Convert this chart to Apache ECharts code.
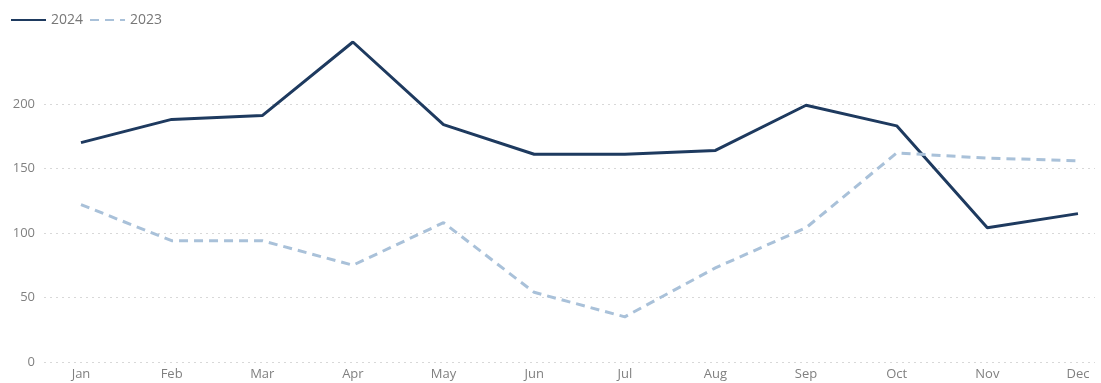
<!DOCTYPE html>
<html>
<head>
<meta charset="utf-8">
<script src="https://cdn.jsdelivr.net/npm/echarts@6/dist/echarts.min.js"></script>
<style>html,body{margin:0;padding:0;background:#fff;}#c{width:1101px;height:383px;}</style>
</head>
<body>
<div id="c"></div>
<script>
const months = ['Jan','Feb','Mar','Apr','May','Jun','Jul','Aug','Sep','Oct','Nov','Dec'];
const values2024 = [170, 188, 191, 248, 184, 161, 161, 164, 199, 183, 104, 115];
const values2023 = [122, 94, 94, 75, 108, 54, 35, 73, 104, 162, 158, 156];
const yTicks = [0, 50, 100, 150, 200];

const toPairs = arr => arr.map((v, i) => [i, v]);
const chart = echarts.init(document.getElementById('c'));
chart.setOption({
  animation: false,
  textStyle: { fontFamily: 'Open Sans' },
  legend: {
    left: 5, top: 8, itemWidth: 35, itemHeight: 14, itemGap: 6,
    itemStyle: { opacity: 0 },
    textStyle: { color: '#777', fontSize: 14 },
    data: ['2024', '2023']
  },
  grid: { left: 44, right: 6, top: 42, bottom: 21, containLabel: false },
  xAxis: {
    type: 'value',
    min: -0.408, max: 11.188,
    axisLine: { show: false },
    axisTick: { show: false },
    splitLine: { show: false },
    axisLabel: {
      customValues: months.map((m, i) => i),
      formatter: v => months[Math.round(v)],
      color: '#808080', fontSize: 13, margin: 6
    }
  },
  yAxis: {
    type: 'value', min: 0, max: 'dataMax', interval: 50,
    axisLine: { show: false }, axisTick: { show: false },
    axisLabel: {
      customValues: yTicks,
      color: '#808080', fontSize: 13, margin: 9
    },
    splitLine: { showMaxLine: false, lineStyle: { type: [2, 4], color: '#d8d8d8', width: 1 } }
  },
  series: [
    { name: '2024', type: 'line', data: toPairs(values2024), symbol: 'none',
      lineStyle: { color: '#1e3a5f', width: 3 }, itemStyle: { color: '#1e3a5f' } },
    { name: '2023', type: 'line', data: toPairs(values2023), symbol: 'none',
      lineStyle: { color: '#a9c1d9', width: 3, type: [9, 6] }, itemStyle: { color: '#a9c1d9' } }
  ]
});
</script>
</body>
</html>
